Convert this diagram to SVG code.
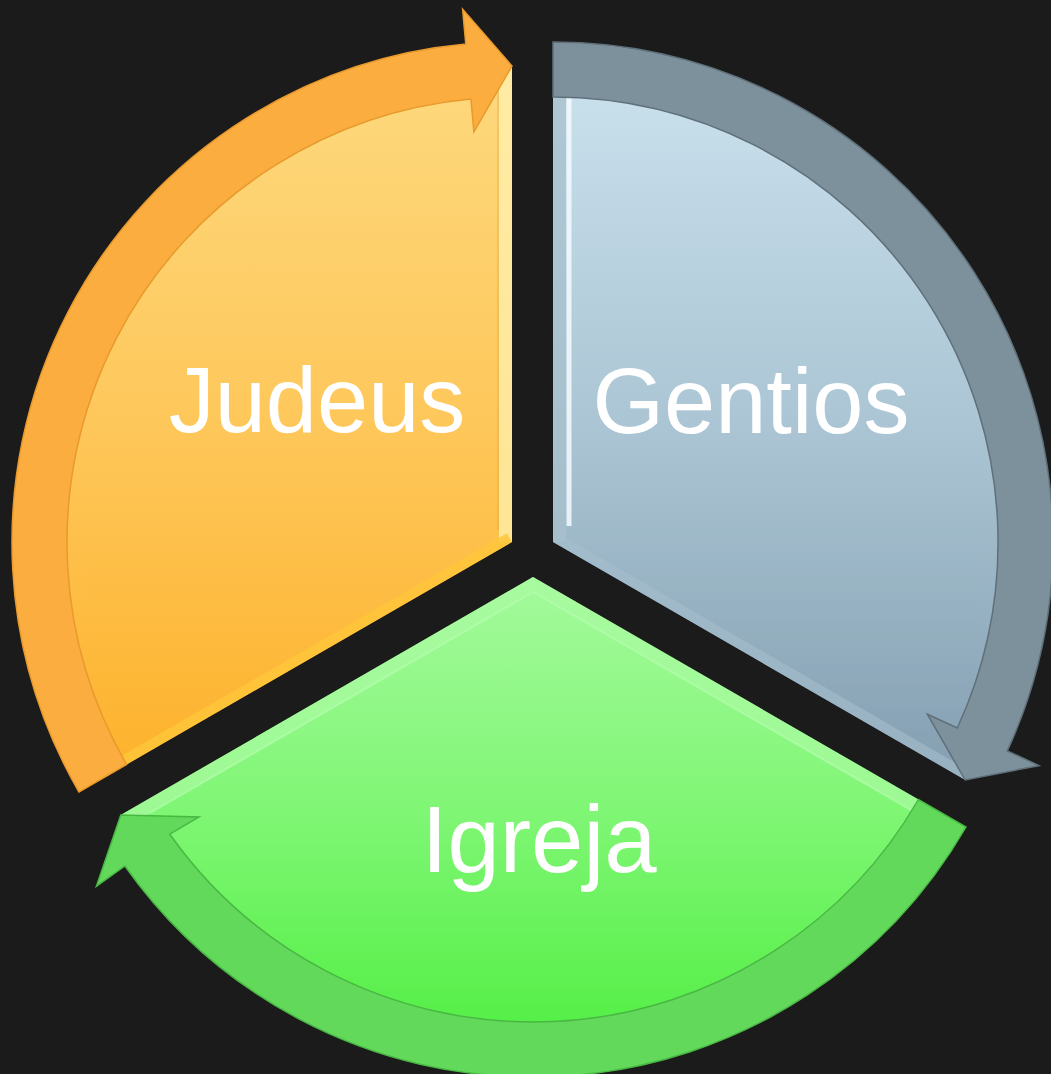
<svg xmlns="http://www.w3.org/2000/svg" width="1051" height="1074" viewBox="0 0 1051 1074">
  <style>
    .label { font-family: "Liberation Sans", Arial, sans-serif; fill: #ffffff; text-anchor: middle; font-size: 92px; }
    .band-o { fill: #FBAD40; stroke: #E89A2C; stroke-width: 1.5; }
    .band-g { fill: #7D919D; stroke: #5F707A; stroke-width: 1.5; }
    .band-n { fill: #62D95B; stroke: #49B843; stroke-width: 1.5; }
  </style>
  <defs>
    <linearGradient id="gO" gradientUnits="userSpaceOnUse" x1="0" y1="67" x2="0" y2="780">
      <stop offset="0" stop-color="#FDD97E"/>
      <stop offset="0.5" stop-color="#FEC75A"/>
      <stop offset="1" stop-color="#FDB22C"/>
    </linearGradient>
    <linearGradient id="gG" gradientUnits="userSpaceOnUse" x1="0" y1="67" x2="0" y2="780">
      <stop offset="0" stop-color="#CBE2EE"/>
      <stop offset="0.5" stop-color="#ABC5D4"/>
      <stop offset="1" stop-color="#849FB1"/>
    </linearGradient>
    <linearGradient id="gN" gradientUnits="userSpaceOnUse" x1="0" y1="577" x2="0" y2="1052">
      <stop offset="0" stop-color="#A4FA9C"/>
      <stop offset="0.5" stop-color="#7FF674"/>
      <stop offset="1" stop-color="#50EE42"/>
    </linearGradient>
    <clipPath id="cO"><path d="M512 542 L100.6 779.5 A475 475 0 0 1 512 67 Z"/></clipPath>
    <clipPath id="cG"><path d="M553 542 L553 67 A475 475 0 0 1 964.4 779.5 Z"/></clipPath>
    <clipPath id="cN"><path d="M533 577 L944.4 814.5 A475 475 0 0 1 121.6 814.5 Z"/></clipPath>
  </defs>
  <rect width="1051" height="1074" fill="#1B1B1B"/>

  <g id="node-judeus">
    <path d="M512 542 L100.6 779.5 A475 475 0 0 1 512 67 Z" fill="url(#gO)"/>
    <g clip-path="url(#cO)">
      <line x1="512" y1="542" x2="512" y2="60" stroke="#FFF2B0" stroke-width="26" opacity="0.75"/>
      <line x1="498" y1="530" x2="498" y2="60" stroke="#E9A93A" stroke-width="2" opacity="0.4"/>
      <line x1="512" y1="542" x2="100.6" y2="779.5" stroke="#FFC63A" stroke-width="20" opacity="0.85"/>
    </g>
    <text class="label" x="317" y="432">Judeus</text>
  </g>

  <g id="node-gentios">
    <path d="M553 542 L553 67 A475 475 0 0 1 964.4 779.5 Z" fill="url(#gG)"/>
    <g clip-path="url(#cG)">
      <line x1="553" y1="542" x2="553" y2="60" stroke="#A9C1CE" stroke-width="26" opacity="0.8"/>
      <line x1="569" y1="95" x2="569" y2="526" stroke="#F4FBFF" stroke-width="5" opacity="0.85"/>
      <line x1="553" y1="542" x2="964.4" y2="779.5" stroke="#A5BFCD" stroke-width="20" opacity="0.6"/>
    </g>
    <text class="label" x="751" y="433">Gentios</text>
  </g>

  <g id="node-igreja">
    <path d="M533 577 L944.4 814.5 A475 475 0 0 1 121.6 814.5 Z" fill="url(#gN)"/>
    <g clip-path="url(#cN)">
      <polyline points="121.6,814.5 533,577 944.4,814.5" fill="none" stroke="#A9FBA1" stroke-width="26" opacity="0.7"/>
      <polyline points="150,813 533,592 916,813" fill="none" stroke="#B8FDB0" stroke-width="2" opacity="0.6"/>
    </g>
    <text class="label" x="539" y="872" style="font-size:94px">Igreja</text>
  </g>

  <g id="connectors">
    <path class="band-o" d="M79 792 A500 500 0 0 1 465.8 44.1 L462.6 9.3 L512 66 L473.9 131.8 L470.9 98.9 A445 445 0 0 0 126.6 764.5 Z"/>
    <path class="band-g" d="M553 42 A500 500 0 0 1 1007.3 750.9 L1039 765.6 L965.2 780 L927.3 714.2 L957.3 728 A445 445 0 0 0 553 97 Z"/>
    <path class="band-n" d="M966 827 A500 500 0 0 1 124.9 866 L96.4 886.2 L120.8 815 L199 817 L169.8 834.2 A445 445 0 0 0 918.4 799.5 Z"/>
  </g>
</svg>
